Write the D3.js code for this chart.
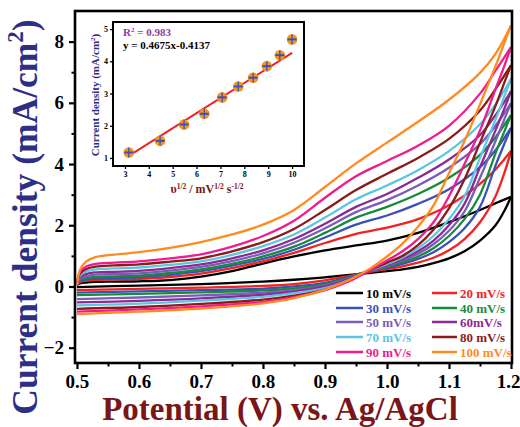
<!DOCTYPE html>
<html><head><meta charset="utf-8">
<script src="https://cdn.jsdelivr.net/npm/d3@7"></script>
<style>html,body{margin:0;padding:0;background:#fff;}svg{display:block;}</style>
</head><body>
<svg id="c" width="520" height="427"></svg>
<script>
// ---------- DATA ----------
const scanRates = ["10 mV/s","20 mV/s","30 mV/s","40 mV/s","50 mV/s","60mV/s","70 mV/s","80 mV/s","90 mV/s","100 mV/s"];
const seriesColors = ["#000000","#f2231f","#3b52b4","#188a3b","#7b5cba","#8a2b91","#5cc6e2","#8a1b1b","#f01b8c","#ff8a1f"];
const legendTextColors = ["#000000","#f2231f","#3b52b4","#188a3b","#7b5cba","#8a2b91","#5cc6e2","#8a1b1b","#f01b8c","#ff8a1f"];

// forward (anodic) sweep potentials, V
const vForward = [0.5,0.505,0.515,0.53,0.56,0.6,0.65,0.7,0.75,0.8,0.85,0.9,0.95,1.0,1.05,1.1,1.15,1.175,1.2];
// reverse (cathodic) sweep potentials, V
const vReverse = [1.2,1.19,1.175,1.15,1.125,1.1,1.075,1.05,1.025,1.0,0.97,0.94,0.9,0.85,0.8,0.7,0.6,0.5];

// current density (mA/cm2) on forward sweep
const jForward10  = [0.05,0.10,0.13,0.15,0.16,0.17,0.21,0.32,0.50,0.75,0.98,1.18,1.34,1.50,1.75,2.10,2.50,2.72,2.93];
const jForward20  = [0.05,0.14,0.19,0.22,0.23,0.25,0.31,0.42,0.60,0.82,1.10,1.42,1.72,1.92,2.20,2.65,3.35,3.82,4.43];
const jForward30  = [0.05,0.17,0.23,0.26,0.28,0.30,0.38,0.50,0.68,0.90,1.20,1.60,2.02,2.32,2.70,3.18,3.90,4.45,5.18];
const jForward40  = [0.05,0.20,0.27,0.31,0.33,0.35,0.44,0.56,0.74,0.98,1.30,1.75,2.25,2.60,3.02,3.55,4.30,4.88,5.60];
const jForward50  = [0.05,0.25,0.34,0.39,0.41,0.43,0.52,0.64,0.83,1.08,1.43,1.90,2.43,2.82,3.30,3.88,4.65,5.25,5.99];
const jForward60  = [0.05,0.30,0.41,0.46,0.48,0.51,0.60,0.72,0.92,1.18,1.55,2.05,2.60,3.02,3.55,4.15,4.95,5.60,6.38];
const jForward70  = [0.05,0.36,0.49,0.56,0.59,0.62,0.71,0.82,1.03,1.32,1.70,2.25,2.85,3.30,3.80,4.42,5.30,5.95,6.78];
const jForward80  = [0.05,0.42,0.57,0.65,0.69,0.72,0.81,0.92,1.15,1.45,1.88,2.50,3.15,3.68,4.20,4.82,5.75,6.45,7.23];
const jForward90  = [0.05,0.48,0.65,0.74,0.78,0.82,0.92,1.05,1.30,1.65,2.15,2.90,3.60,4.10,4.60,5.25,6.30,7.05,7.82];
const jForward100 = [0.05,0.55,0.82,0.96,1.04,1.12,1.26,1.45,1.70,2.02,2.50,3.25,4.02,4.70,5.38,6.10,6.98,7.60,8.53];

// current density (mA/cm2) on reverse sweep
const jReverse10  = [2.93,2.50,2.00,1.50,1.15,0.92,0.76,0.64,0.56,0.50,0.44,0.38,0.30,0.22,0.16,0.08,0.03,-0.02];
const jReverse20  = [4.43,3.75,2.95,2.10,1.55,1.18,0.94,0.78,0.66,0.57,0.47,0.35,0.20,0.08,0.02,-0.04,-0.08,-0.12];
const jReverse30  = [5.18,4.70,3.95,2.60,1.90,1.45,1.12,0.90,0.74,0.61,0.49,0.32,0.12,0.00,-0.07,-0.12,-0.16,-0.20];
const jReverse40  = [5.60,5.10,4.35,3.00,2.20,1.65,1.25,0.98,0.80,0.64,0.50,0.30,0.08,-0.06,-0.13,-0.19,-0.24,-0.28];
const jReverse50  = [5.99,5.50,4.75,3.55,2.45,1.82,1.38,1.07,0.85,0.67,0.50,0.27,0.04,-0.12,-0.20,-0.29,-0.36,-0.41];
const jReverse60  = [6.38,5.85,5.10,3.90,2.70,2.00,1.50,1.15,0.90,0.70,0.50,0.25,0.00,-0.17,-0.27,-0.39,-0.47,-0.52];
const jReverse70  = [6.78,6.25,5.45,4.20,2.95,2.20,1.65,1.25,0.95,0.73,0.50,0.22,-0.05,-0.22,-0.34,-0.46,-0.56,-0.62];
const jReverse80  = [7.23,6.70,5.90,4.70,3.50,2.55,1.85,1.35,1.00,0.78,0.50,0.20,-0.10,-0.30,-0.43,-0.57,-0.67,-0.73];
const jReverse90  = [7.82,7.25,6.45,5.10,4.00,2.95,2.10,1.55,1.15,0.85,0.50,0.18,-0.12,-0.35,-0.50,-0.65,-0.75,-0.82];
const jReverse100 = [8.53,8.00,7.20,5.95,4.75,3.70,2.65,1.95,1.40,0.98,0.55,0.22,-0.10,-0.38,-0.55,-0.72,-0.82,-0.90];

const jForwardAll = [jForward10,jForward20,jForward30,jForward40,jForward50,jForward60,jForward70,jForward80,jForward90,jForward100];
const jReverseAll = [jReverse10,jReverse20,jReverse30,jReverse40,jReverse50,jReverse60,jReverse70,jReverse80,jReverse90,jReverse100];

const xTicksMain = [0.5,0.6,0.7,0.8,0.9,1.0,1.1,1.2];
const xMinorMain = [0.55,0.65,0.75,0.85,0.95,1.05,1.15];
const yTicksMain = [-2,0,2,4,6,8];
const yMinorMain = [-1,1,3,5,7];

// inset: peak current vs sqrt(scan rate)
const insetX = [3.162,4.472,5.477,6.325,7.071,7.746,8.367,8.944,9.487,10.0];
const insetY = [1.17,1.53,2.04,2.37,2.88,3.22,3.49,3.85,4.19,4.68];
const fitSlope = 0.4675, fitIntercept = -0.4137;
const insetXTicks = [3,4,5,6,7,8,9,10];
const insetYTicks = [1,2,3,4,5];

// ---------- DRAW ----------
const svg = d3.select("#c");
const FONT = "'Liberation Serif','Times New Roman',serif";

const x = d3.scaleLinear().domain([0.4968,1.2016]).range([75,512]);
const y = d3.scaleLinear().domain([-2.5,9]).range([363,11]);

const line = d3.line().x(d=>x(d[0])).y(d=>y(d[1])).curve(d3.curveCatmullRom.alpha(0.5));

const curves = svg.append("g");
for (let i=0;i<10;i++){
  const f = vForward.map((v,k)=>[v,jForwardAll[i][k]]);
  const r = vReverse.map((v,k)=>[v,jReverseAll[i][k]]);
  [f,r].forEach(pts=>{
    curves.append("path").attr("d",line(pts)).attr("fill","none")
      .attr("stroke",seriesColors[i]).attr("stroke-width",2.3).attr("stroke-linejoin","round");
  });
}

// axes
const xAx = d3.axisBottom(x).tickValues(xTicksMain).tickFormat(d3.format(".1f")).tickSize(6).tickPadding(6);
const gx = svg.append("g").attr("transform","translate(0,363)").call(xAx);
gx.selectAll(".tick line").attr("stroke-width",2.2);
gx.select(".domain").remove();
gx.selectAll("text").attr("font-family",FONT).attr("font-weight","bold").attr("font-size",19).attr("fill","#000");
gx.selectAll("text").filter(d=>d===1.2).attr("dx",-3);
svg.append("g").attr("transform","translate(0,363)").call(d3.axisBottom(x).tickValues(xMinorMain).tickSize(3.5).tickFormat(""))
  .call(g=>{g.select(".domain").remove(); g.selectAll("line").attr("stroke-width",2);});

const yAx = d3.axisLeft(y).tickValues(yTicksMain).tickFormat(d3.format("d")).tickSize(6).tickPadding(5);
const gy = svg.append("g").attr("transform","translate(75,0)").call(yAx);
gy.selectAll(".tick line").attr("stroke-width",2.2);
gy.select(".domain").remove();
gy.selectAll("text").attr("font-family",FONT).attr("font-weight","bold").attr("font-size",19).attr("fill","#000");
svg.append("g").attr("transform","translate(75,0)").call(d3.axisLeft(y).tickValues(yMinorMain).tickSize(3.5).tickFormat(""))
  .call(g=>{g.select(".domain").remove(); g.selectAll("line").attr("stroke-width",2);});

// frame
svg.append("rect").attr("x",75).attr("y",11).attr("width",437).attr("height",352)
  .attr("fill","none").attr("stroke","#000").attr("stroke-width",2.6);

// axis titles
svg.append("text").attr("x",280).attr("y",420).attr("text-anchor","middle")
  .attr("font-family",FONT).attr("font-weight","bold").attr("font-size",33).attr("fill","#7a1518")
  .text("Potential (V) vs. Ag/AgCl");
const yt = svg.append("text").attr("transform","translate(37,217) rotate(-90)").attr("text-anchor","middle")
  .attr("font-family",FONT).attr("font-weight","bold").attr("font-size",35.5).attr("fill","#2c2f85");
yt.append("tspan").text("Current density (mA/cm");
yt.append("tspan").attr("font-size",23).attr("dy",-14).text("2");
yt.append("tspan").attr("dy",14).text(")");

// legend
const legCols = [[336,366],[432,460]];
const legRowY = [293,308,322,337,352];
for (let i=0;i<10;i++){
  const col = legCols[i%2], rowY = legRowY[Math.floor(i/2)];
  svg.append("line").attr("x1",col[0]).attr("x2",col[1]-3).attr("y1",rowY).attr("y2",rowY)
    .attr("stroke",seriesColors[i]).attr("stroke-width",2.5);
  svg.append("text").attr("x",col[1]).attr("y",rowY+4.5).attr("font-family",FONT).attr("font-weight","bold")
    .attr("font-size",13).attr("fill",legendTextColors[i]).text(scanRates[i]);
}

// ---------- INSET ----------
const ix = d3.scaleLinear().domain([2.5,10.5]).range([113,304]);
const iy = d3.scaleLinear().domain([0.75,5.22]).range([166,22]);
const inset = svg.append("g");
inset.append("rect").attr("x",113).attr("y",22).attr("width",191).attr("height",144)
  .attr("fill","#fff").attr("stroke","#000").attr("stroke-width",2);
const igx = inset.append("g").attr("transform","translate(0,166)")
  .call(d3.axisBottom(ix).tickValues(insetXTicks).tickSize(3).tickPadding(2).tickFormat(d3.format("d")));
igx.select(".domain").remove();
igx.selectAll("line").attr("stroke-width",1.3);
igx.selectAll("text").attr("font-family",FONT).attr("font-weight","bold").attr("font-size",8).attr("fill","#000");
const igy = inset.append("g").attr("transform","translate(113,0)")
  .call(d3.axisLeft(iy).tickValues(insetYTicks).tickSize(3).tickPadding(2).tickFormat(d3.format("d")));
igy.select(".domain").remove();
igy.selectAll("line").attr("stroke-width",1.3);
igy.selectAll("text").attr("font-family",FONT).attr("font-weight","bold").attr("font-size",8).attr("fill","#000");

// fit line
inset.append("line").attr("x1",ix(insetX[0])).attr("y1",iy(fitSlope*insetX[0]+fitIntercept))
  .attr("x2",ix(insetX[insetX.length-1])).attr("y2",iy(fitSlope*insetX[insetX.length-1]+fitIntercept))
  .attr("stroke","#f02020").attr("stroke-width",2);
// markers
insetX.forEach((xv,k)=>{
  const cx = ix(xv), cy = iy(insetY[k]);
  inset.append("circle").attr("cx",cx).attr("cy",cy).attr("r",5.3).attr("fill","#f7941d");
  inset.append("line").attr("x1",cx-4.5).attr("x2",cx+4.5).attr("y1",cy).attr("y2",cy).attr("stroke","#3b52b4").attr("stroke-width",2);
  inset.append("line").attr("x1",cx).attr("x2",cx).attr("y1",cy-5).attr("y2",cy+5).attr("stroke","#3b52b4").attr("stroke-width",1.3);
});
// inset texts
const r2 = inset.append("text").attr("x",123).attr("y",36).attr("font-family",FONT).attr("font-weight","bold")
  .attr("font-size",11).attr("fill","#8e3b9e");
r2.append("tspan").text("R");
r2.append("tspan").attr("font-size",7).attr("dy",-4).text("2");
r2.append("tspan").attr("dy",4).text(" = 0.983");
inset.append("text").attr("x",123).attr("y",49).attr("font-family",FONT).attr("font-weight","bold")
  .attr("font-size",11).attr("fill","#000").text("y = 0.4675x-0.4137");
const iyt = inset.append("text").attr("transform","translate(99,95) rotate(-90)").attr("text-anchor","middle")
  .attr("font-family",FONT).attr("font-weight","bold").attr("font-size",11).attr("fill","#2c2f85");
iyt.append("tspan").text("Current density (mA/cm");
iyt.append("tspan").attr("font-size",7).attr("dy",-4).text("2");
iyt.append("tspan").attr("dy",4).text(")");
const ixt = inset.append("text").attr("x",207).attr("y",193).attr("text-anchor","middle")
  .attr("font-family",FONT).attr("font-weight","bold").attr("font-size",12).attr("fill","#7a1518");
ixt.append("tspan").text("\u03C5");
ixt.append("tspan").attr("font-size",7.5).attr("dy",-4.5).text("1/2");
ixt.append("tspan").attr("dy",4.5).text(" / mV");
ixt.append("tspan").attr("font-size",7.5).attr("dy",-4.5).text("1/2");
ixt.append("tspan").attr("dy",4.5).text(" s");
ixt.append("tspan").attr("font-size",7.5).attr("dy",-4.5).text("-1/2");
</script>
</body></html>
